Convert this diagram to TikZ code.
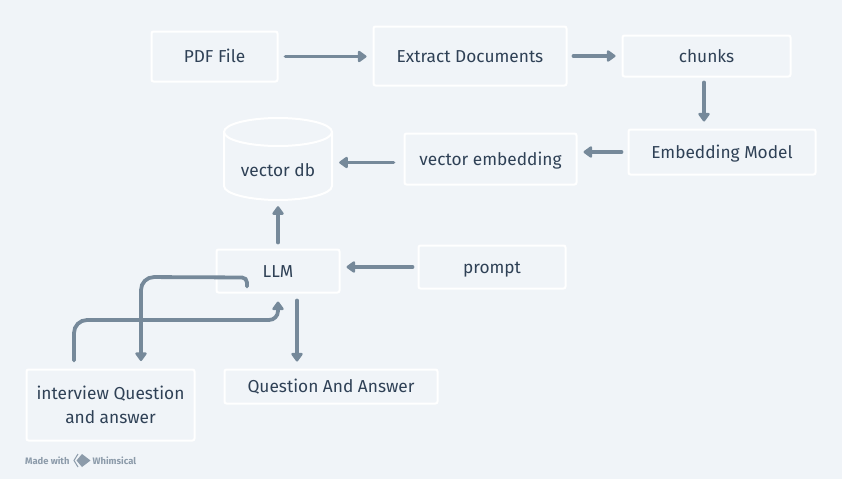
\documentclass[tikz,border=0pt]{standalone}
\usepackage{fontspec}
\setmainfont{Fira Sans}
\usetikzlibrary{arrows.meta}
\definecolor{bgc}{HTML}{F0F4F8}
\definecolor{edgec}{HTML}{76899A}
\definecolor{textc}{HTML}{2F4156}
\definecolor{markc}{HTML}{8C9BAA}
\tikzset{
  box/.style={draw=white,line width=2pt,rounded corners=2pt,inner sep=0pt,align=center,text=textc,font=\fontsize{17.3}{24}\selectfont},
  oneline/.style={box,text height=14pt,text depth=2pt},
  label/.style={inner sep=0pt,align=center,text=textc,font=\fontsize{17.3}{24}\selectfont},
  wire/.style={draw=edgec,line width=3.8pt,line cap=round},
  link/.style={wire,-{Triangle[length=9.5pt,width=13pt,round=false]}},
  brand/.style={inner sep=0pt,text=markc,font=\fontsize{9.4}{10}\bfseries\selectfont}
}
\begin{document}
\begin{tikzpicture}[x=1pt,y=-1pt]
\useasboundingbox[fill=bgc] (0,0) rectangle (842,479);
\node[oneline,minimum width=126pt,minimum height=50pt] (pdf) at (214.5,56.5) {PDF File};
\node[oneline,minimum width=193pt,minimum height=59pt] (ext) at (470,56) {Extract Documents};
\node[oneline,minimum width=168pt,minimum height=41pt] (chk) at (706.5,56) {chunks};
\node[oneline,minimum width=187pt,minimum height=45pt] (emb) at (722,152) {Embedding Model};
\node[oneline,minimum width=172pt,minimum height=51pt] (vec) at (490.5,159) {vector embedding};
\node[oneline,minimum width=147pt,minimum height=43pt] (prm) at (492,267) {prompt};
\node[oneline,minimum width=123pt,minimum height=43pt] (llm) at (278,271) {LLM};
\node[box,minimum width=168pt,minimum height=71pt] (int) at (110.5,405) {interview Question\\and answer};
\node[oneline,minimum width=213pt,minimum height=34pt] (qa) at (331,386.5) {Question And Answer};
% cylinder
\node[label,minimum width=108pt,minimum height=82pt] (db) at (278,159) {};
\node[label] (dbt) at (278,170) {vector db};
\draw[white,line width=2pt] (224,132) -- (224,186) .. controls (224,194) and (250,200) .. (278,200) .. controls (306,200) and (332,194) .. (332,186) -- (332,132);
\draw[white,line width=2pt] (278,132) ellipse [x radius=54,y radius=14];
% connectors
\draw[link,shorten <=7pt,shorten >=6pt] (pdf.east) -- (ext.west |- pdf.east);
\draw[link,shorten <=6pt,shorten >=6pt] (ext.east) -- (chk.west);
\draw[link,shorten <=5pt,shorten >=7pt] ([xshift=-2.5]chk.south) -- ([xshift=-18]emb.north);
\draw[link,shorten <=6pt,shorten >=6pt] (emb.west) -- (vec.east |- emb.west);
\draw[link,shorten <=10pt,shorten >=7pt] ([yshift=-3.5]vec.west) -- ([yshift=-3.5]vec.west -| db.east);
\draw[link,shorten <=6pt,shorten >=6pt] (llm.north) -- (db.south);
\draw[link,shorten <=5pt,shorten >=6pt] (prm.west) -- (llm.east |- prm.west);
\draw[link,shorten <=7pt,shorten >=7pt] ([xshift=19]llm.south) -- ([xshift=-34]qa.north);
\draw[link] ([xshift=-31,yshift=7]llm.south) [rounded corners=5pt] -- ([xshift=-31,yshift=16]llm.south) [rounded corners=13pt] -- (141,277) -- (141,361);
\draw[link] ([xshift=-36.5,yshift=8]int.north) [rounded corners=13pt] -- (74,320) [rounded corners=9pt] -- (278,320) -- ([yshift=-8]llm.south);
% brand
\node[brand,anchor=west] (made) at (25,460.5) {Made with};
\node[brand,anchor=west] (whim) at (92.5,460.5) {Whimsical};
\fill[markc] (82,454) -- (90.5,460.5) -- (82,467) -- (76.5,460.5) -- cycle;
\draw[markc,line width=1pt] (78,454) -- (74,460.5) -- (78,467);
\end{tikzpicture}
\end{document}
